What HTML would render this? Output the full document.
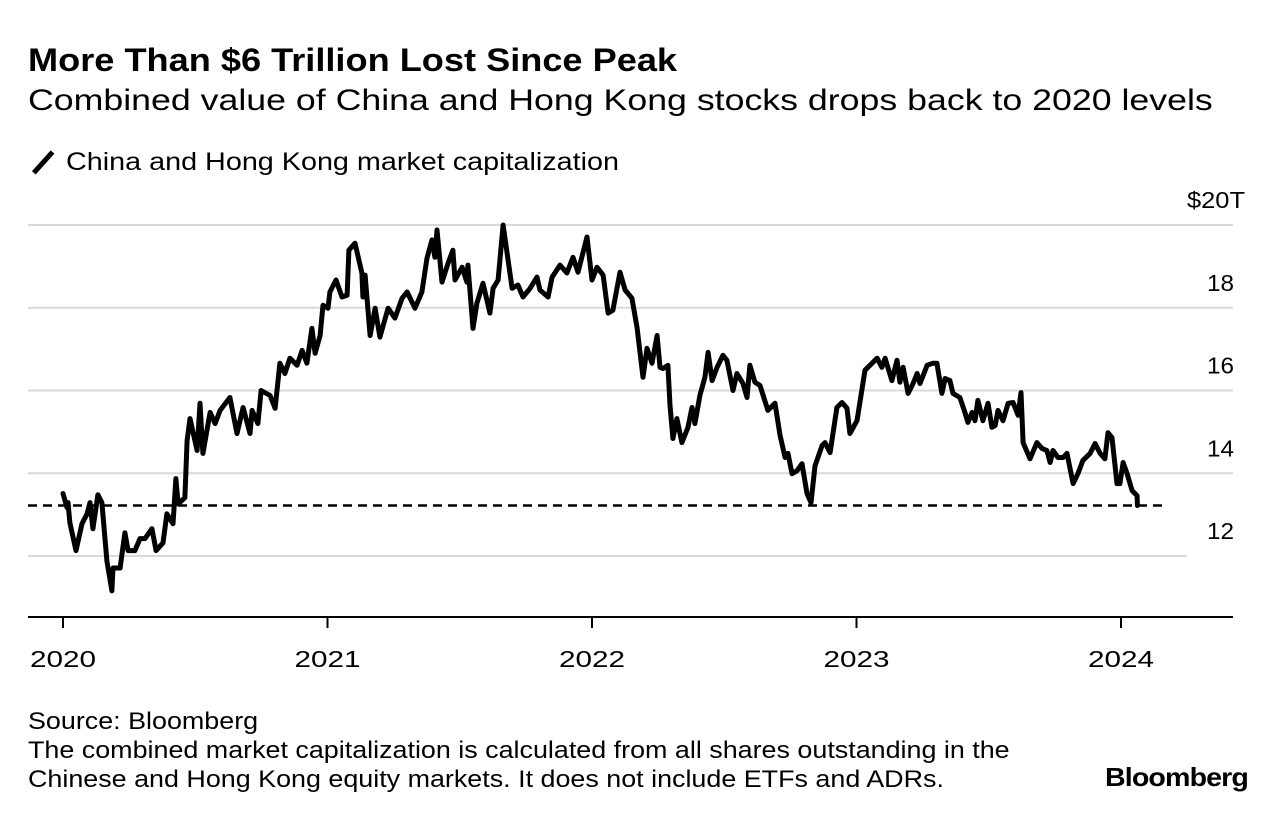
<!DOCTYPE html>
<html><head><meta charset="utf-8">
<style>
body{margin:0;background:#fff;width:1286px;height:822px;overflow:hidden;font-family:"Liberation Sans",Arial,sans-serif;color:#000}
.abs{position:absolute;white-space:nowrap;transform-origin:0 0}
</style></head><body>
<div class="abs" style="left:28px;top:42px;font-size:32px;font-weight:bold;transform:scaleX(1.13)">More Than $6 Trillion Lost Since Peak</div>
<div class="abs" style="left:28px;top:84px;font-size:30px;transform:scaleX(1.19)">Combined value of China and Hong Kong stocks drops back to 2020 levels</div>
<div class="abs" style="left:29px;top:160px;width:28px;height:4.5px;background:#000;transform:rotate(-48deg);transform-origin:50% 50%"></div>
<div class="abs" style="left:66px;top:148px;font-size:25px;transform:scaleX(1.15)">China and Hong Kong market capitalization</div>
<div class="abs" style="left:28px;top:707px;font-size:24px;line-height:29px;transform:scaleX(1.12)">Source: Bloomberg<br>The combined market capitalization is calculated from all shares outstanding in the<br>Chinese and Hong Kong equity markets. It does not include ETFs and ADRs.</div>
<div class="abs" style="left:1105px;top:762px;font-size:26px;font-weight:bold;letter-spacing:-0.8px;transform:scaleX(1.1)">Bloomberg</div>
<svg id="chart" width="1286" height="822" style="position:absolute;left:0;top:0"></svg>
<script>
const yTicks=[12,14,16,18,20];
const yTickLabels=["12","14","16","18","$20T"];
const xTicks=[2020,2021,2022,2023,2024];
const xTickLabels=["2020","2021","2022","2023","2024"];
const referenceLevel=13.22;
const dates=[2020.000,2020.015,2020.019,2020.026,2020.049,2020.072,2020.091,2020.102,2020.113,2020.132,2020.147,2020.166,2020.185,2020.189,2020.216,2020.234,2020.246,2020.272,2020.291,2020.310,2020.336,2020.352,2020.378,2020.393,2020.416,2020.427,2020.435,2020.461,2020.469,2020.480,2020.507,2020.518,2020.529,2020.556,2020.575,2020.594,2020.631,2020.658,2020.681,2020.707,2020.715,2020.737,2020.749,2020.783,2020.802,2020.820,2020.839,2020.858,2020.885,2020.904,2020.922,2020.941,2020.953,2020.972,2020.983,2021.002,2021.009,2021.032,2021.055,2021.074,2021.081,2021.104,2021.130,2021.134,2021.142,2021.161,2021.180,2021.198,2021.229,2021.255,2021.282,2021.301,2021.331,2021.357,2021.376,2021.395,2021.406,2021.414,2021.433,2021.456,2021.474,2021.482,2021.509,2021.527,2021.531,2021.550,2021.565,2021.588,2021.614,2021.626,2021.645,2021.664,2021.698,2021.720,2021.739,2021.766,2021.792,2021.803,2021.834,2021.849,2021.879,2021.905,2021.928,2021.947,2021.981,2022.000,2022.019,2022.042,2022.061,2022.079,2022.106,2022.125,2022.151,2022.170,2022.193,2022.208,2022.227,2022.246,2022.257,2022.268,2022.287,2022.295,2022.306,2022.321,2022.340,2022.363,2022.378,2022.389,2022.408,2022.427,2022.439,2022.454,2022.473,2022.495,2022.510,2022.533,2022.548,2022.571,2022.586,2022.597,2022.616,2022.635,2022.665,2022.692,2022.711,2022.730,2022.741,2022.756,2022.775,2022.794,2022.813,2022.828,2022.843,2022.870,2022.881,2022.900,2022.926,2022.945,2022.964,2022.975,2023.002,2023.032,2023.059,2023.078,2023.096,2023.108,2023.134,2023.153,2023.164,2023.176,2023.195,2023.214,2023.229,2023.240,2023.267,2023.289,2023.304,2023.323,2023.335,2023.353,2023.365,2023.391,2023.410,2023.421,2023.437,2023.448,2023.459,2023.478,2023.497,2023.512,2023.524,2023.535,2023.554,2023.573,2023.592,2023.611,2023.622,2023.630,2023.656,2023.682,2023.701,2023.720,2023.732,2023.743,2023.762,2023.781,2023.796,2023.819,2023.837,2023.856,2023.883,2023.902,2023.921,2023.939,2023.951,2023.966,2023.985,2023.996,2024.008,2024.023,2024.042,2024.061,2024.062];
const marketCap=[13.51,13.17,13.29,12.80,12.13,12.78,13.02,13.29,12.66,13.48,13.29,11.88,11.16,11.71,11.71,12.56,12.13,12.13,12.42,12.42,12.66,12.13,12.32,13.02,12.78,13.87,13.26,13.41,14.79,15.32,14.55,15.69,14.48,15.47,15.20,15.52,15.83,14.96,15.59,14.96,15.52,15.20,16.00,15.88,15.57,16.66,16.41,16.78,16.61,16.97,16.66,17.50,16.90,17.33,18.06,17.99,18.38,18.67,18.26,18.30,19.39,19.56,18.84,18.26,18.79,17.33,17.99,17.29,17.99,17.75,18.23,18.38,17.99,18.38,19.20,19.64,19.22,19.88,18.62,19.08,19.39,18.67,18.98,18.62,19.03,17.50,18.11,18.59,17.87,18.47,18.67,20.00,18.47,18.55,18.26,18.47,18.74,18.43,18.26,18.74,19.03,18.84,19.22,18.86,19.71,18.67,18.98,18.79,17.87,17.94,18.86,18.43,18.23,17.53,16.32,17.02,16.66,17.33,16.56,16.53,16.61,15.64,14.84,15.32,14.74,15.11,15.59,15.20,15.88,16.32,16.92,16.24,16.56,16.85,16.73,16.00,16.41,16.17,15.83,16.61,16.20,16.12,15.52,15.69,14.91,14.38,14.48,13.99,14.06,14.23,13.51,13.29,14.18,14.67,14.74,14.50,15.59,15.71,15.57,14.96,15.27,16.49,16.66,16.78,16.56,16.78,16.24,16.73,16.20,16.56,15.93,16.17,16.41,16.17,16.61,16.66,16.66,15.93,16.29,16.24,15.93,15.83,15.47,15.23,15.47,15.27,15.76,15.27,15.69,15.11,15.15,15.52,15.27,15.69,15.71,15.40,15.95,14.74,14.35,14.74,14.60,14.55,14.26,14.55,14.38,14.38,14.48,13.75,13.99,14.31,14.48,14.72,14.48,14.35,14.98,14.86,13.75,13.75,14.26,13.99,13.58,13.46,13.22];

const NS="http://www.w3.org/2000/svg";
const svg=document.getElementById('chart');
const X0=63,X1=1121,Y20=225,Y12=556;
function xScale(d){return X0+(d-2020)*(X1-X0)/4;}
function yScale(v){return Y12-(v-12)*(Y12-Y20)/8;}
function mk(tag,attrs){const e=document.createElementNS(NS,tag);for(const k in attrs)e.setAttribute(k,attrs[k]);svg.appendChild(e);return e;}

yTicks.forEach((t,i)=>{
  const g=mk('line',{x1:28,x2:t===12?1187:1233,y1:yScale(t),y2:yScale(t),stroke:'#d9d9d9','stroke-width':2});
  
  
  const isTop=(t===20);
  const tx=mk('text',{x:isTop?1245:1234,y:yScale(t)-17,'text-anchor':'end','font-size':23,'font-family':'Liberation Sans, Arial, sans-serif',fill:'#000',textLength:isTop?58:27,lengthAdjust:'spacingAndGlyphs'});
  tx.textContent=yTickLabels[i];
  
  
});
const ax=mk('line',{x1:28,x2:1233,y1:617,y2:617,stroke:'#000','stroke-width':2});


xTicks.forEach((t,i)=>{
  const tk=mk('line',{x1:xScale(t),x2:xScale(t),y1:617,y2:628,stroke:'#000','stroke-width':2});
  
  
  const tx=mk('text',{x:xScale(t),y:667,'text-anchor':'middle','font-size':23,'font-family':'Liberation Sans, Arial, sans-serif',fill:'#000',textLength:66,lengthAdjust:'spacingAndGlyphs'});
  tx.textContent=xTickLabels[i];
  
  
});
const ref=mk('line',{x1:28,x2:1168,y1:yScale(referenceLevel),y2:yScale(referenceLevel),stroke:'#000','stroke-width':2.5,'stroke-dasharray':'9,6'});


let d='';
dates.forEach((dt,i)=>{d+=(i?'L':'M')+xScale(dt).toFixed(1)+','+yScale(marketCap[i]).toFixed(1);});
const p=mk('path',{d:d,fill:'none',stroke:'#000','stroke-width':5,'stroke-linejoin':'round','stroke-linecap':'round'});


</script>
</body></html>
